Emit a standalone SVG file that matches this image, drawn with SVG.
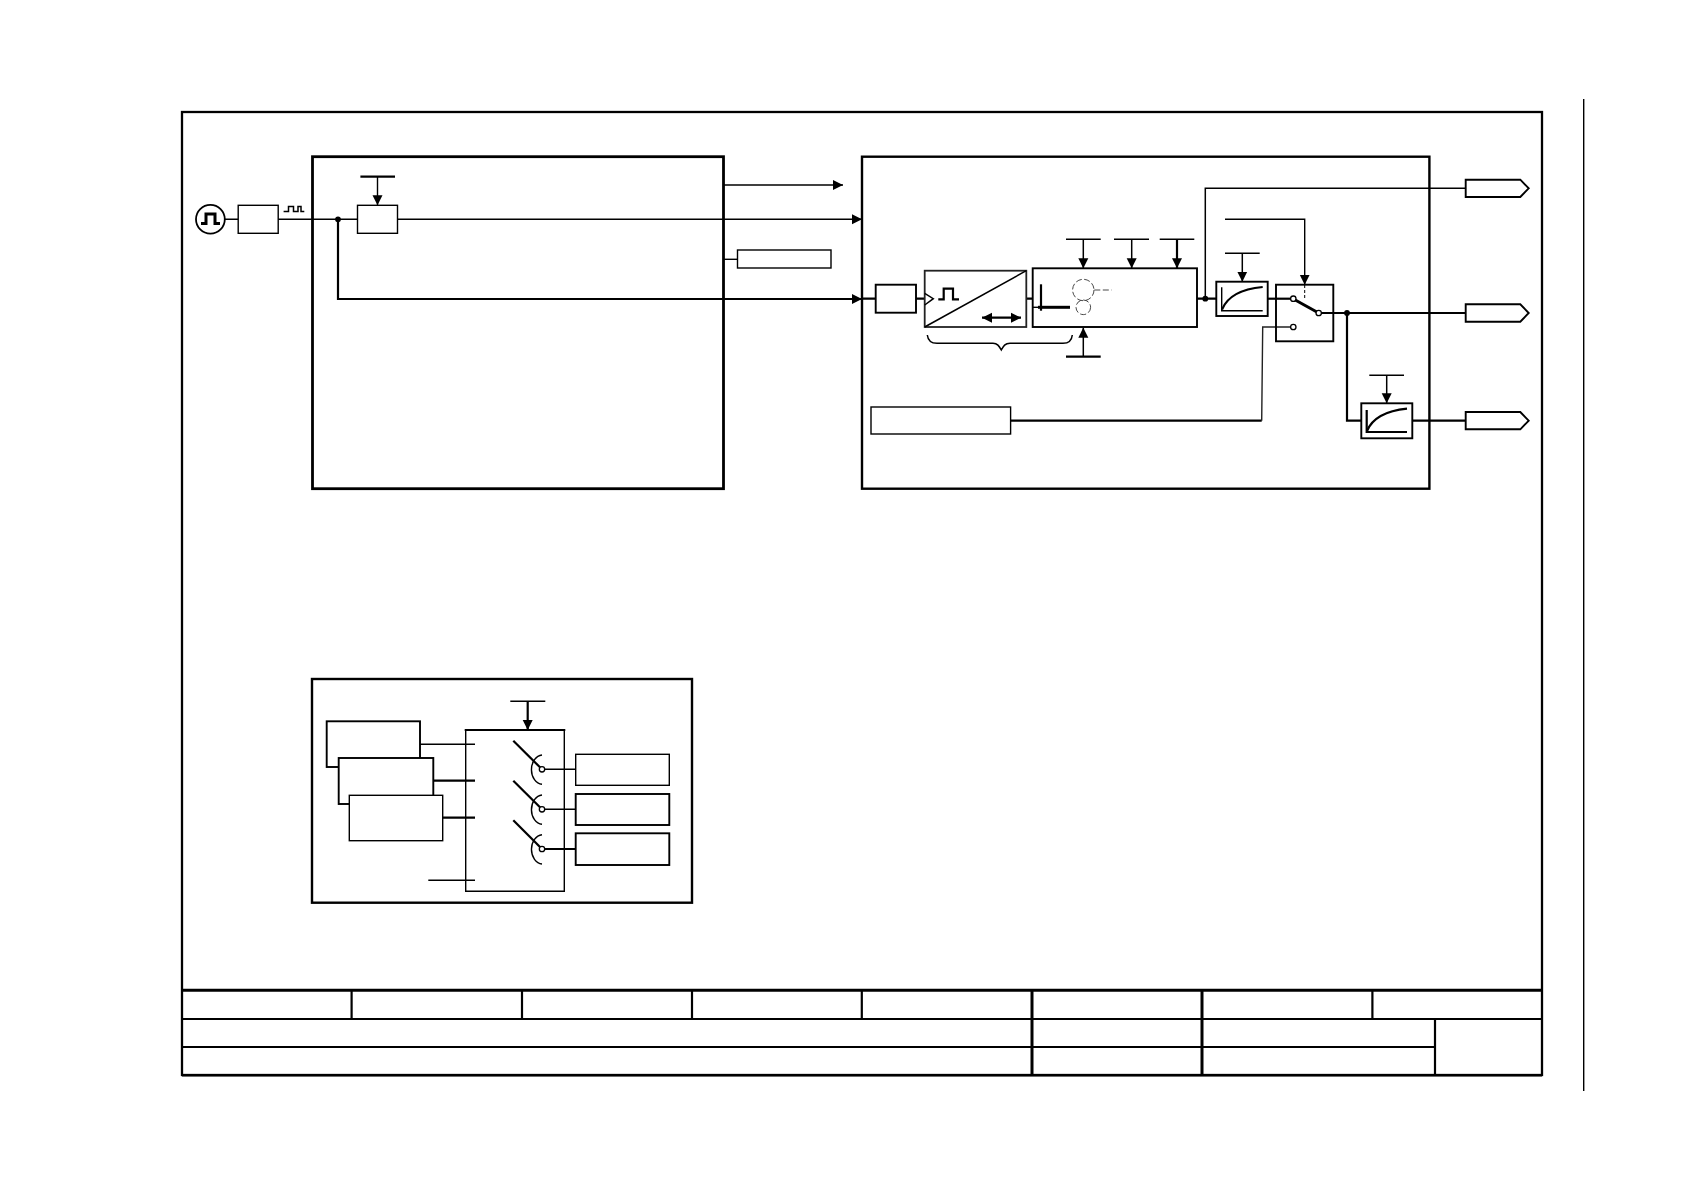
<svg xmlns="http://www.w3.org/2000/svg" width="1684" height="1190" viewBox="0 0 1684 1190">
<style>
.b{fill:#fff;stroke:#000;stroke-width:1.4}
.m{fill:#fff;stroke:#000;stroke-width:1.9}
.w{fill:none;stroke:#000;stroke-width:1.5}
.l{fill:none;stroke:#000;stroke-width:1.4}
.t{fill:none;stroke:#000;stroke-width:2.2}
.x{fill:none;stroke:#000;stroke-width:3}
.d{fill:none;stroke:#333;stroke-width:.9;stroke-dasharray:6 2.5}
.o{fill:#fff;stroke:#000;stroke-width:1.3}
</style>
<defs>
<marker id="a" markerUnits="userSpaceOnUse" markerWidth="10" markerHeight="11" refX="10" refY="5.5" orient="auto"><path d="M0 .5L10 5.5L0 10.5Z" fill="#000"/></marker>
<marker id="a2" markerUnits="userSpaceOnUse" markerWidth="10" markerHeight="11" refX="0" refY="5.5" orient="auto"><path d="M10 .5L0 5.5L10 10.5Z" fill="#000"/></marker>
</defs>
<rect width="1684" height="1190" fill="#fff"/>
<g id="frame">
<rect x="182" y="112" width="1360" height="963" fill="none" stroke="#000" stroke-width="2.3"/>
<path class="l" d="M1583.7 99V1091"/>
</g>
<g id="title-block">
<path class="t" d="M182 990.3H1542" style="stroke-width:3"/>
<path class="t" d="M182 1019H1542M182 1047H1435M182 1075.3H1542"/>
<path class="t" d="M351.6 990V1019M522 990V1019M692 990V1019M861.8 990V1019M1372.4 990V1019M1435 1019V1075"/>
<path class="x" d="M1032 990V1075M1202 990V1075"/>
</g>
<g id="connectors">
<path class="l" d="M225 219.3H238M278 219.3H357.5M397.5 219.3H862" marker-end="url(#a)"/>
<path class="t" d="M338 219.3V299H862" marker-end="url(#a)"/>
<path class="l" d="M723.6 185H843" marker-end="url(#a)"/>
<path class="l" d="M723.6 259.3H737"/>
<path class="l" d="M377.5 176.7V205.3" marker-end="url(#a)"/>
<path class="t" d="M862 298.7H876M916 298.7H925M1026 298.7H1033M1197 298.7H1216"/>
<path class="w" d="M1205.3 298.7V188.3H1466"/>
<path class="t" d="M1267.7 298.7H1293"/>
<path class="x" d="M1293 298.7L1318.7 313"/>
<path class="t" d="M1318.7 313H1466M1347 313V420.7H1361.3M1412.3 420.7H1466"/>
<path class="l" d="M1225 219.3H1304.7V284.7" marker-end="url(#a)"/>
<path d="M1304.7 285V300" fill="none" stroke="#000" stroke-width="1" stroke-dasharray="3 2"/>
<path class="t" d="M1011 420.7H1261.7"/>
<path fill="none" stroke="#222" stroke-width="1.4" d="M1293 327H1262.7L1261.7 420.7"/>
<path class="w" d="M1083.3 239.3V268.3" marker-end="url(#a)"/>
<path class="w" d="M1131.7 239.3V268.3" marker-end="url(#a)"/>
<path class="t" d="M1177 239.3V268.3" marker-end="url(#a)"/>
<path class="w" d="M1083.3 356.7V327.7" marker-end="url(#a)"/>
<path class="w" d="M1242.3 253.3V281.7" marker-end="url(#a)"/>
<path class="w" d="M1386.7 375.3V403.3" marker-end="url(#a)"/>
<path class="t" d="M527.7 701.3V730" marker-end="url(#a)"/>
<path class="l" d="M420 744.3H475"/>
<path class="t" d="M433.3 780.7H475M442.7 817.7H475"/>
<path class="l" d="M428.3 880.3H475"/>
<path class="w" d="M542 769.3H575.7M542 809.3H575.7"/>
<path class="t" d="M542 849H575.7"/>
</g>
<g id="t-bars">
<path class="t" d="M360.4 176.7H395"/>
<path class="w" d="M1066 239.3H1100.7M1114 239.3H1149M1159.7 239.3H1194.3" />
<path class="t" d="M1066 356.7H1100.7"/>
<path class="w" d="M1225 253.3H1259.7M1369.3 375.3H1404M510.3 701.3H545.3"/>
</g>
<g id="pulse-source">
<circle cx="210.4" cy="219.3" r="14.4" fill="#fff" stroke="#000" stroke-width="1.8"/>
<path class="x" d="M201 223.5H206V214H215V223.5H220"/>
</g>
<g id="box-input"><rect class="b" x="238.2" y="205.3" width="40" height="28"/></g>
<path id="pulse-small" class="w" d="M283.6 211.5H288.5V206.5H293.5V211.5H298V206.5H301V211.5H304.3"/>
<g id="block-left"><rect x="312.5" y="156.7" width="411" height="332" fill="none" stroke="#000" stroke-width="2.8"/></g>
<g id="box-counter"><rect class="b" x="357.5" y="205.3" width="40" height="28"/></g>
<g id="block-right"><rect x="862" y="156.7" width="567.4" height="332" fill="none" stroke="#000" stroke-width="2.4"/></g>
<circle id="j1" cx="338" cy="219.3" r="2.9"/>
<circle id="j2" cx="1205.3" cy="298.7" r="2.9"/>
<circle id="j3" cx="1347" cy="313" r="2.9"/>
<g id="label-box"><rect class="b" x="737.5" y="250" width="93.5" height="18"/></g>
<g id="box-pre"><rect class="m" x="875.7" y="284.7" width="40.3" height="28"/></g>
<g id="converter">
<rect x="924.7" y="270.7" width="101.6" height="56.3" fill="#fff" stroke="#222" stroke-width="1.8"/>
<path class="w" d="M924.7 327L1026.3 270.7"/>
<path class="w" d="M924.7 293.3L933.3 298.7L924.7 305"/>
<path class="t" d="M938.3 299.3H943.7V288.7H953V299.3H959"/>
<path class="t" d="M982 317.7H1021" marker-start="url(#a2)" marker-end="url(#a)"/>
</g>
<path id="brace" class="w" d="M927.3 335C928 341 931 343.3 937 343.3H993C997.5 343.3 999 346 1001.3 350C1003.5 346 1005 343.3 1010 343.3H1063C1069 343.3 1071.7 341 1072.3 335"/>
<g id="summing">
<rect x="1032.7" y="268.3" width="164.3" height="58.7" fill="#fff" stroke="#000" stroke-width="1.9"/>
<path class="t" d="M1041 284.3V310.7"/>
<path class="x" d="M1038 307.3H1070"/>
<path class="l" d="M1032.7 307.3H1040"/>
<circle class="d" cx="1083.3" cy="290" r="10.7"/>
<circle class="d" cx="1083.3" cy="307.3" r="7.3"/>
<path class="d" d="M1094.3 290H1111.7"/>
</g>
<g id="filter-1">
<rect class="m" x="1216.3" y="281.7" width="51.4" height="34.3"/>
<path class="l" d="M1221.7 287.3V310.7H1262.7"/>
<path class="t" d="M1222 309.5Q1230 290 1262.7 287"/>
</g>
<g id="switch">
<rect class="m" x="1276" y="284.7" width="57.3" height="56.6" style="fill:none"/>
<circle class="o" cx="1293.3" cy="298.7" r="2.7"/>
<circle class="o" cx="1318.7" cy="313" r="2.7"/>
<circle class="o" cx="1293.3" cy="327" r="2.7"/>
</g>
<g id="filter-2">
<rect class="m" x="1361.3" y="403.3" width="51" height="35"/>
<path class="t" d="M1366.7 410V432H1407"/>
<path class="t" d="M1367 431Q1375 412 1407 408.7"/>
</g>
<g id="setpoint"><rect class="b" x="871" y="407" width="139.6" height="27"/></g>
<g id="out-1"><path class="m" d="M1465.7 179.7H1520.3L1528.7 188.3L1520.3 197H1465.7Z"/></g>
<g id="out-2"><path class="m" d="M1465.7 304.3H1520.3L1528.7 313L1520.3 321.7H1465.7Z"/></g>
<g id="out-3"><path class="m" d="M1465.7 412H1520.3L1528.7 420.7L1520.3 429.3H1465.7Z"/></g>
<g id="block-bottom"><rect x="312" y="679" width="380" height="223.7" fill="none" stroke="#000" stroke-width="2.4"/></g>
<g id="param-a"><rect class="m" x="326.7" y="721.3" width="93.3" height="45.7"/></g>
<g id="param-b"><rect class="m" x="338.7" y="758" width="94.6" height="46"/></g>
<g id="param-c"><rect class="b" x="349.3" y="795.3" width="93.4" height="45.4"/></g>
<g id="selector">
<path class="l" d="M465.7 730V891.3H564.3V730"/>
<path class="t" d="M464.7 730H565.3"/>
</g>
<g id="contact-1"><path class="t" d="M513.3 740.7L542 769.3"/><path class="l" d="M542 755A11.5 14.7 0 0 0 542 784.3"/><circle class="o" cx="542" cy="769.3" r="2.7"/></g>
<g id="contact-2"><path class="t" d="M513.3 780.7L542 809.3"/><path class="l" d="M542 795A11.5 14.7 0 0 0 542 824.3"/><circle class="o" cx="542" cy="809.3" r="2.7"/></g>
<g id="contact-3"><path class="t" d="M513.3 820.3L542 849"/><path class="l" d="M542 834.7A11.5 14.7 0 0 0 542 864"/><circle class="o" cx="542" cy="849" r="2.7"/></g>
<g id="target-1"><rect class="b" x="575.7" y="754.3" width="93.6" height="31"/></g>
<g id="target-2"><rect class="m" x="575.7" y="794" width="93.6" height="31"/></g>
<g id="target-3"><rect class="m" x="575.7" y="833.3" width="93.6" height="31.7"/></g>
</svg>
